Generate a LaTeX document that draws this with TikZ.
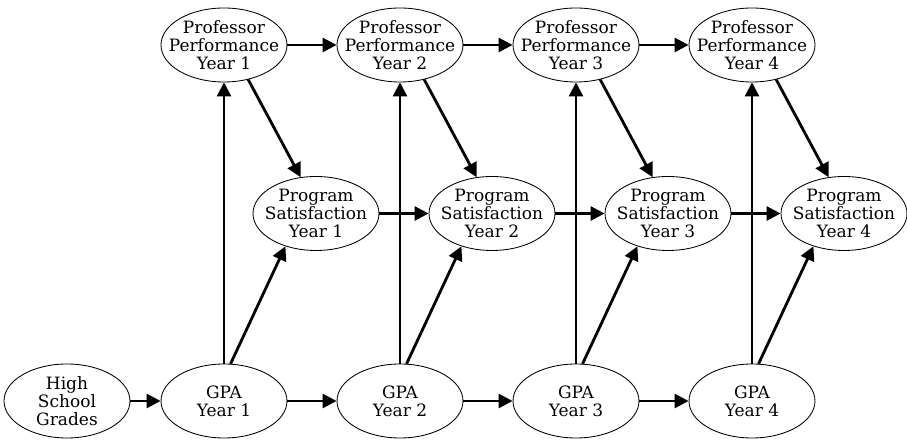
\documentclass[tikz,border=0pt]{standalone}
\usepackage{fontspec}
\setmainfont{DejaVu Serif}
\usepackage{tikz}
\usetikzlibrary{shapes.geometric, arrows.meta}
\tikzstyle{var} = [ellipse, 
draw=black, line width=0.6pt, 
minimum width=3.15cm, 
minimum height=1.85cm, 
inner xsep=-0.32cm, inner ysep=-1.5pt, 
align=center, 
font=\fontsize{12.1}{13}\selectfont]
\tikzstyle{arrow} = [line width=2pt,->,>={Triangle[length=10pt,width=10pt]}]

\begin{document}
\begin{tikzpicture}[node distance=4.4cm]
\useasboundingbox (0,0) rectangle (22.675,11);

% grades and GPA
\node (hs) [var] at (1.675,0.975) {High\\School\\Grades};
\node (gpa1) [var, right of=hs, xshift=-0.475cm] {GPA\\Year 1};
\node (gpa2) [var, right of=gpa1] {GPA\\Year 2};
\node (gpa3) [var, right of=gpa2] {GPA\\Year 3};
\node (gpa4) [var, right of=gpa3] {GPA\\Year 4};

% professor performance
\node (prof1) [var, above of=gpa1, yshift=4.5cm] {Professor\\Performance\\Year 1};
\node (prof2) [var, right of=prof1] {Professor\\Performance\\Year 2};
\node (prof3) [var, right of=prof2] {Professor\\Performance\\Year 3};
\node (prof4) [var, right of=prof3] {Professor\\Performance\\Year 4};

% program satisfaction
\node (sat1) [var, above of=gpa1, xshift=2.3cm, yshift=0.2875cm] {Program\\Satisfaction\\Year 1};
\node (sat2) [var, right of=sat1] {Program\\Satisfaction\\Year 2};
\node (sat3) [var, right of=sat2] {Program\\Satisfaction\\Year 3};
\node (sat4) [var, right of=sat3] {Program\\Satisfaction\\Year 4};

\draw [arrow] (hs) -- (gpa1);
\draw [arrow] (gpa1) -- (gpa2);
\draw [arrow] (gpa2) -- (gpa3);
\draw [arrow] (gpa3) -- (gpa4);

\draw [arrow] (prof1) -- (prof2);
\draw [arrow] (prof2) -- (prof3);
\draw [arrow] (prof3) -- (prof4);

\draw [arrow] (sat1) -- (sat2);
\draw [arrow] (sat2) -- (sat3);
\draw [arrow] (sat3) -- (sat4);

\draw [arrow] (gpa1) -- (prof1);
\draw [arrow] (gpa2) -- (prof2);
\draw [arrow] (gpa3) -- (prof3);
\draw [arrow] (gpa4) -- (prof4);

\draw [arrow] (gpa1.80) -- (sat1.227);
\draw [arrow] (gpa2.80) -- (sat2.227);
\draw [arrow] (gpa3.80) -- (sat3.227);
\draw [arrow] (gpa4.80) -- (sat4.227);

\draw [arrow] (prof1.305) -- (sat1.113);
\draw [arrow] (prof2.305) -- (sat2.113);
\draw [arrow] (prof3.305) -- (sat3.113);
\draw [arrow] (prof4.305) -- (sat4.113);

\end{tikzpicture}
\end{document}
